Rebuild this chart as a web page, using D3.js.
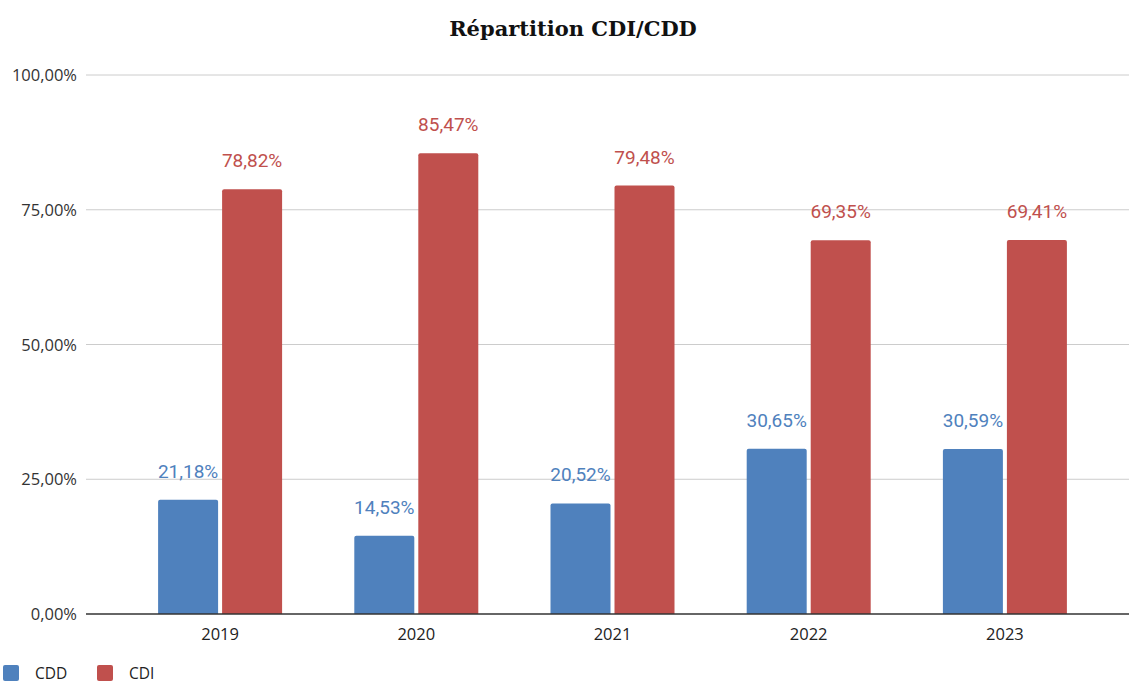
<!DOCTYPE html>
<html>
<head>
<meta charset="utf-8">
<script src="https://cdn.jsdelivr.net/npm/d3@7"></script>
<style>
  body { margin: 0; background: #fff; }
  text { font-family: "Open Sans", "Noto Sans", sans-serif; }
</style>
</head>
<body>
<div id="container"></div>
<script>
const width = 1129;
const height = 683;

const years = ["2019", "2020", "2021", "2022", "2023"];
const cdd = [21.18, 14.53, 20.52, 30.65, 30.59];
const cdi = [78.82, 85.47, 79.48, 69.35, 69.41];
const yTicks = [0, 25, 50, 75, 100];
const seriesNames = ["CDD", "CDI"];
const colors = ["#4f81bd", "#c0504d"];

const fmt = v => v.toFixed(2).replace(".", ",") + "%";

let svg = d3.select("#container").append("svg")
    .attr("width", width)
    .attr("height", height)
    .attr("viewBox", `0 0 ${width} ${height}`);

let x = d3.scaleBand().domain(years).range([122, 1103]);
let y = d3.scaleLinear().domain([0, 100]).range([614, 75]);
let barW = 60, gap = 4;

svg.append("text")
    .attr("x", 573)
    .attr("y", 36)
    .attr("text-anchor", "middle")
    .style("font-family", "'DejaVu Serif', 'Liberation Serif', serif")
    .style("font-weight", "bold")
    .style("font-size", "21px")
    .attr("fill", "#111")
    .text("Répartition CDI/CDD");

// grid
svg.append("g")
    .selectAll("line")
    .data(yTicks.filter(d => d > 0))
    .join("line")
    .attr("x1", 86).attr("x2", width)
    .attr("y1", d => y(d)).attr("y2", d => y(d))
    .attr("stroke", "#cccccc")
    .attr("stroke-width", 1);

svg.append("g")
    .selectAll("text")
    .data(yTicks)
    .join("text")
    .attr("x", 77)
    .attr("y", d => y(d) + 6)
    .attr("text-anchor", "end")
    .attr("fill", "#333")
    .style("font-size", "16.5px")
    .text(d => fmt(d));

let rows = years.map((yr, i) => ({ year: yr, vals: [cdd[i], cdi[i]] }));

let group = svg.append("g")
    .selectAll("g")
    .data(rows)
    .join("g")
    .attr("transform", d => "translate(" + (x(d.year) + x.bandwidth() / 2) + ",0)");

let bars = group.selectAll("g")
    .data(d => d.vals.map((v, k) => ({ v: v, k: k })))
    .join("g");

bars.append("path")
    .attr("fill", d => colors[d.k])
    .attr("d", d => {
        let x0 = d.k == 0 ? -gap / 2 - barW : gap / 2;
        let x1 = x0 + barW;
        let top = y(d.v), bot = y(0), r = 2;
        return `M${x0},${bot}V${top + r}Q${x0},${top} ${x0 + r},${top}H${x1 - r}Q${x1},${top} ${x1},${top + r}V${bot}Z`;
    });

bars.append("text")
    .attr("x", d => d.k == 0 ? -gap / 2 - barW / 2 : gap / 2 + barW / 2)
    .attr("y", d => y(d.v) - 22)
    .attr("text-anchor", "middle")
    .attr("fill", d => colors[d.k])
    .style("font-family", "Roboto, sans-serif")
    .style("font-size", "19px")
    .text(d => fmt(d.v));

// baseline
svg.append("line")
    .attr("x1", 86).attr("x2", width)
    .attr("y1", y(0)).attr("y2", y(0))
    .attr("stroke", "#333")
    .attr("stroke-width", 1.5);

svg.append("g")
    .selectAll("text")
    .data(years)
    .join("text")
    .attr("x", d => x(d) + x.bandwidth() / 2)
    .attr("y", 640)
    .attr("text-anchor", "middle")
    .attr("fill", "#222")
    .style("font-size", "16.5px")
    .text(d => d);

// legend
let legend = svg.append("g")
    .selectAll("g")
    .data(seriesNames)
    .join("g")
    .attr("transform", (d, i) => "translate(" + (3 + i * 94) + ",665)");

legend.append("rect")
    .attr("width", 16).attr("height", 16).attr("rx", 2)
    .attr("fill", (d, i) => colors[i]);

legend.append("text")
    .attr("x", 32)
    .attr("y", 14)
    .attr("fill", "#222")
    .style("font-size", "15.5px")
    .text(d => d);
</script>
</body>
</html>
